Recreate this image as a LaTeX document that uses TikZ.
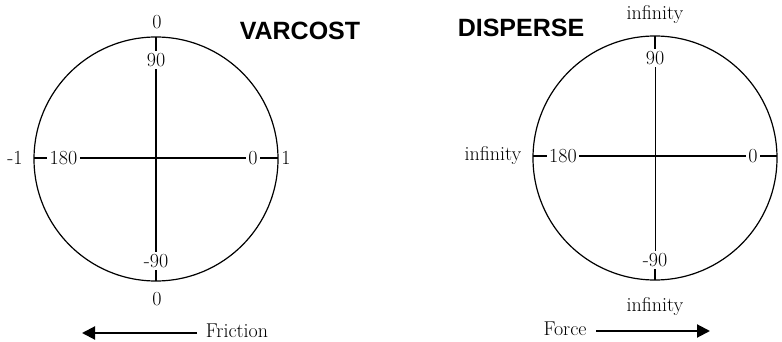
\documentclass[tikz,border=0pt]{standalone}
\usepackage{fontspec}
\newfontfamily\headfont{Liberation Sans}
\usetikzlibrary{arrows.meta}
\begin{document}
\begin{tikzpicture}[x=1pt,y=-1pt,
  lbl/.style={inner sep=2.5pt,font=\fontsize{20}{22}\selectfont},
  head/.style={inner sep=0pt,font=\headfont\bfseries\fontsize{25}{28}\selectfont},
  axis/.style={line width=2pt},
  thinaxis/.style={line width=1pt},
  rim/.style={line width=1.2pt},
  push/.style={line width=2pt,-{Triangle[length=13pt,width=13pt]}}]
\useasboundingbox (0,0) rectangle (782,342);
% ---------- left circle (VARCOST)
\coordinate (Lc) at (156,159);
\draw[rim] (Lc) circle[radius=122];
\coordinate (Lt) at (156,37);
\coordinate (Lb) at (156,281);
\coordinate (Ll) at (34,158);
\coordinate (Lr) at (278,158);
\node[lbl] (L90) at (156,60) {90};
\node[lbl] (Lm90) at (156,261) {-90};
\node[lbl] (L180) at (63.5,158) {180};
\node[lbl] (L0) at (253,158) {0};
\node[lbl] (Ltop) at (157,22) {0};
\node[lbl] (Lbot) at (157,299) {0};
\node[lbl] (Lm1) at (15,158) {-1};
\node[lbl] (L1) at (286,158) {1};
\draw[axis] (Lt) -- (L90.north);
\draw[axis] (L90.south) -- (Lm90.north);
\draw[axis] (Lm90.south) -- (Lb);
\draw[axis] (Ll) -- (L180.west);
\draw[axis] (L180.east) -- (L0.west);
\draw[axis] (L0.east) -- (Lr);
\node[head] (varcost) at (300,31) {VARCOST};
% ---------- right circle (DISPERSE)
\coordinate (Rc) at (655,158);
\draw[rim] (Rc) circle[radius=122];
\coordinate (Rt) at (655,36);
\coordinate (Rb) at (655,280);
\coordinate (Rl) at (533,156);
\coordinate (Rr) at (777,156);
\node[lbl] (R90) at (655,58) {90};
\node[lbl] (Rm90) at (655,260) {-90};
\node[lbl] (R180) at (563,156) {180};
\node[lbl] (R0) at (753,156) {0};
\node[lbl] (Rtop) at (655,15) {infinity};
\node[lbl] (Rbot) at (655,307) {infinity};
\node[lbl] (Rleft) at (493,156) {infinity};
\draw[axis] (Rt) -- (R90.north);
\draw[thinaxis] (R90.south) -- (Rm90.north);
\draw[axis] (Rm90.south) -- (Rb);
\draw[axis] (Rl) -- (R180.west);
\draw[axis] (R180.east) -- (R0.west);
\draw[axis] (R0.east) -- (Rr);
\node[head] (disperse) at (521,28) {DISPERSE};
% ---------- arrows
\node[lbl] (friction) at (237,331) {Friction};
\coordinate (fricTip) at (82,333);
\coordinate (fricStart) at (197,333);
\draw[push] (fricStart) -- (fricTip);
\node[lbl] (force) at (565,329) {Force};
\coordinate (forceTip) at (710,331);
\coordinate (forceStart) at (596,331);
\draw[push] (forceStart) -- (forceTip);
\end{tikzpicture}
\end{document}
